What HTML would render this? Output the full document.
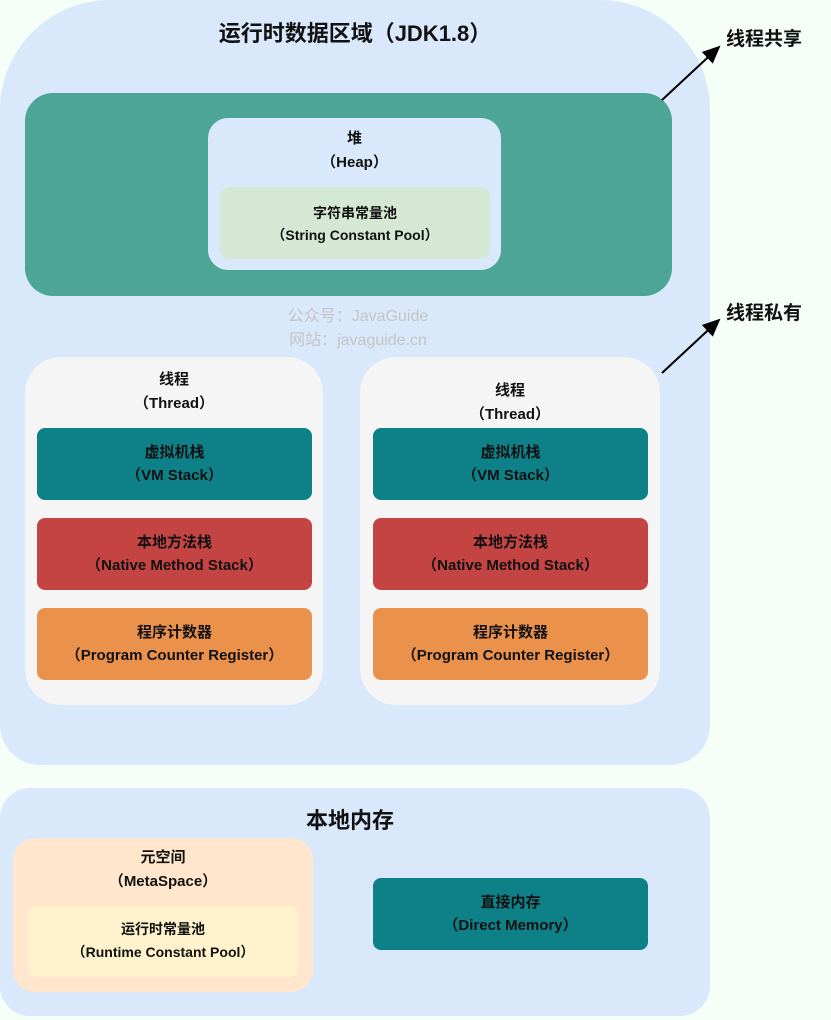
<!DOCTYPE html>
<html><head><meta charset="utf-8"><style>
body{margin:0;width:831px;height:1020px;background:#f5fff7;position:relative;overflow:hidden;font-family:"Liberation Sans","Noto Sans CJK SC",sans-serif;font-weight:bold;color:#111}
.b{position:absolute;box-sizing:border-box;text-align:center}
.t{font-size:15px;line-height:23px}
</style></head><body>
<div class="b" style="left:0;top:0;width:710px;height:765px;background:#dae8fc;border-radius:110px 110px 40px 40px"></div>
<div class="b" style="left:0;top:16px;width:710px;font-size:22px">运行时数据区域（JDK1.8）</div>
<div class="b" style="left:25px;top:93px;width:647px;height:203px;background:#4ca595;border-radius:28px"></div>
<div class="b" style="left:208px;top:118px;width:293px;height:152px;background:#dae8fc;border-radius:20px"></div>
<div class="b t" style="left:208px;top:127px;width:293px;line-height:24px">堆<br>（Heap）</div>
<div class="b t" style="left:220px;top:187px;width:270px;height:72px;background:#d5e8d4;border-radius:10px;padding-top:15px;font-size:14px;line-height:22px">字符串常量池<br>（String Constant Pool）</div>
<div class="b" style="left:230px;top:305px;width:256px;color:#c4c4c4;font-weight:normal;font-size:16px;line-height:24px">公众号：JavaGuide<br>网站：javaguide.cn</div>

<div class="b" style="left:25px;top:357px;width:298px;height:348px;background:#f5f5f5;border-radius:36px"></div>
<div class="b t" style="left:25px;top:368px;width:298px;line-height:24px">线程<br>（Thread）</div>
<div class="b t" style="left:37px;top:428px;width:275px;height:72px;background:#0e8088;border-radius:8px;padding-top:13px">虚拟机栈<br>（VM Stack）</div>
<div class="b t" style="left:37px;top:518px;width:275px;height:72px;background:#c44444;border-radius:8px;padding-top:13px">本地方法栈<br>（Native Method Stack）</div>
<div class="b t" style="left:37px;top:608px;width:275px;height:72px;background:#ea924c;border-radius:8px;padding-top:13px">程序计数器<br>（Program Counter Register）</div>

<div class="b" style="left:360px;top:357px;width:300px;height:348px;background:#f5f5f5;border-radius:36px"></div>
<div class="b t" style="left:360px;top:379px;width:300px;line-height:24px">线程<br>（Thread）</div>
<div class="b t" style="left:373px;top:428px;width:275px;height:72px;background:#0e8088;border-radius:8px;padding-top:13px">虚拟机栈<br>（VM Stack）</div>
<div class="b t" style="left:373px;top:518px;width:275px;height:72px;background:#c44444;border-radius:8px;padding-top:13px">本地方法栈<br>（Native Method Stack）</div>
<div class="b t" style="left:373px;top:608px;width:275px;height:72px;background:#ea924c;border-radius:8px;padding-top:13px">程序计数器<br>（Program Counter Register）</div>

<div class="b" style="left:0;top:788px;width:710px;height:228px;background:#dae8fc;border-radius:30px"></div>
<div class="b" style="left:0;top:803px;width:700px;font-size:22px">本地内存</div>
<div class="b" style="left:13px;top:838px;width:300px;height:154px;background:#ffe6cc;border-radius:22px"></div>
<div class="b t" style="left:13px;top:846px;width:300px;line-height:24px">元空间<br>（MetaSpace）</div>
<div class="b" style="left:28px;top:906px;width:270px;height:71px;background:#fff2cc;border-radius:8px;padding-top:12px;font-size:14px;line-height:23px">运行时常量池<br>（Runtime Constant Pool）</div>
<div class="b t" style="left:373px;top:878px;width:275px;height:72px;background:#0e8088;border-radius:8px;padding-top:13px">直接内存<br>（Direct Memory）</div>

<div class="b" style="left:726px;top:24px;font-size:19px">线程共享</div>
<div class="b" style="left:726px;top:298px;font-size:19px">线程私有</div>
<svg width="831" height="1020" style="position:absolute;left:0;top:0">
<defs><marker id="a" markerWidth="10" markerHeight="10" refX="8" refY="5" orient="auto"><path d="M0,1 L9,5 L0,9 Z" fill="#000"/></marker></defs>
<line x1="662" y1="100" x2="719" y2="47" stroke="#000" stroke-width="2" marker-end="url(#a)"/>
<line x1="662" y1="373" x2="719" y2="320" stroke="#000" stroke-width="2" marker-end="url(#a)"/>
</svg>
</body></html>
